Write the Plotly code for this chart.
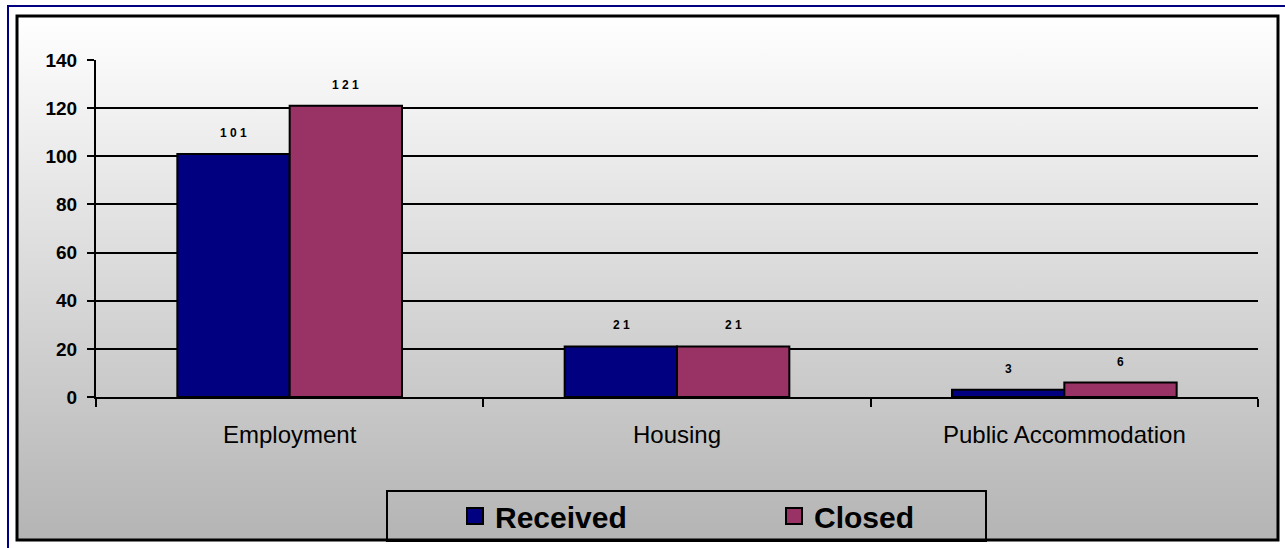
import base64
import plotly.graph_objects as go

categories = ["Employment", "Housing", "Public Accommodation"]
received = [101, 21, 3]
closed = [121, 21, 6]
series_names = ["Received", "Closed"]
series_colors = ["#000080", "#993366"]
y_ticks = [0, 20, 40, 60, 80, 100, 120, 140]

W, H = 1285, 548
ML, MR, MT, MB = 96, 27, 60, 151
PW, PH = W - ML - MR, H - MT - MB


def px_x(p):
    return (p - ML) / PW


def px_y(p):
    return (H - MB - p) / PH


FONT = "Arial, Liberation Sans, sans-serif"

fig = go.Figure()
for name, vals, col in zip(series_names, (received, closed), series_colors):
    fig.add_trace(go.Bar(name=name, x=categories, y=vals, showlegend=False,
                         marker=dict(color=col, line=dict(color="black", width=2))))
# legend entries with larger square swatches
for name, col in zip(series_names, series_colors):
    fig.add_trace(go.Scatter(name=name, x=[None], y=[None], mode="markers",
                             marker=dict(symbol="square", size=17, color=col,
                                         line=dict(color="black", width=2))))

# value labels
for vals, shift in ((received, -56), (closed, 56)):
    for c, v in zip(categories, vals):
        fig.add_annotation(x=c, y=v, text=f"<b>{' '.join(str(v))}</b>", showarrow=False,
                           xshift=shift, yshift=12, yanchor="bottom",
                           font=dict(family=FONT, size=12, color="black"))

svg = ('<svg xmlns="http://www.w3.org/2000/svg" width="100" height="100" preserveAspectRatio="none">'
       '<defs><linearGradient id="g" x1="0" y1="0" x2="0" y2="1">'
       '<stop offset="0" stop-color="#ffffff"/><stop offset="1" stop-color="#b4b4b4"/>'
       '</linearGradient></defs><rect width="100" height="100" fill="url(#g)"/></svg>')
src = "data:image/svg+xml;base64," + base64.b64encode(svg.encode()).decode()

fig.add_layout_image(source=src, xref="paper", yref="paper",
                     x=px_x(17), y=px_y(16), sizex=(1278 - 17) / PW, sizey=(540 - 16) / PH,
                     xanchor="left", yanchor="top", sizing="stretch", layer="below")

# frames
fig.add_shape(type="rect", xref="paper", yref="paper",
              x0=px_x(17), x1=px_x(1278), y0=px_y(16), y1=px_y(540),
              line=dict(color="black", width=3), layer="above")
fig.add_shape(type="rect", xref="paper", yref="paper",
              x0=px_x(8), x1=px_x(1300), y0=px_y(6), y1=px_y(560),
              line=dict(color="#000080", width=2), layer="above")
# legend box
fig.add_shape(type="rect", xref="paper", yref="paper",
              x0=px_x(387), x1=px_x(986), y0=px_y(491), y1=px_y(541),
              line=dict(color="black", width=2), layer="above")

fig.update_layout(
    width=W, height=H,
    margin=dict(l=ML, r=MR, t=MT, b=MB, autoexpand=False),
    paper_bgcolor="white", plot_bgcolor="rgba(0,0,0,0)",
    barmode="group", bargap=0.42, bargroupgap=0,
    font=dict(family=FONT, color="black"),
    showlegend=True,
    legend=dict(orientation="h", x=px_x(455), y=px_y(516), xanchor="left", yanchor="middle",
                borderwidth=0, bgcolor="rgba(0,0,0,0)",
                font=dict(family=FONT, size=30, color="black", weight="bold"),
                entrywidth=274, entrywidthmode="pixels", itemsizing="trace"),
)
fig.update_xaxes(showline=True, linecolor="black", linewidth=2, ticks="outside",
                 tickson="boundaries", ticklen=8, tickwidth=2, tickcolor="black",
                 tickfont=dict(family=FONT, size=24, color="black"), ticklabelstandoff=15,
                 showgrid=False, automargin=False)
fig.update_yaxes(range=[0, 140], tickvals=y_ticks, showline=True, linecolor="black", linewidth=2,
                 ticks="outside", ticklen=7, tickwidth=2, tickcolor="black",
                 tickfont=dict(family=FONT, size=19, color="black", weight="bold"),
                 ticklabelstandoff=6, automargin=False,
                 showgrid=True, gridcolor="black", gridwidth=2, zeroline=False)

fig.write_html("out.html", config={"displayModeBar": False},
               post_script="document.body.style.margin='0';")
